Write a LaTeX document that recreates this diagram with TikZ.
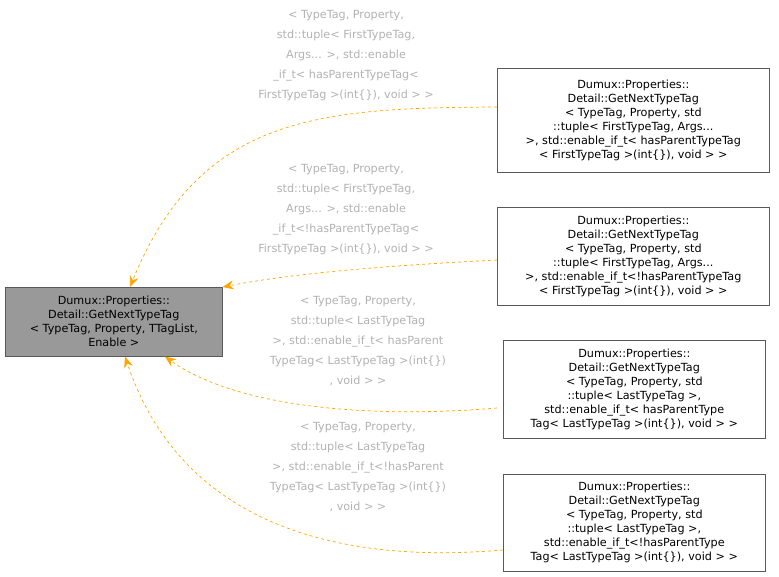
\documentclass[tikz,border=0pt]{standalone}
\usepackage{fontspec}
\setmainfont{DejaVu Sans}
\usetikzlibrary{arrows.meta}
\definecolor{edgec}{HTML}{FFA500}
\begin{document}
\begin{tikzpicture}[x=1pt,y=-1pt,
 box/.style={draw=black!65,line width=0.6pt,align=center,font=\fontsize{11.2}{14}\selectfont,inner sep=0pt,anchor=north west},
 lab/.style={text=black!30,align=center,font=\fontsize{11.2}{20}\selectfont,inner sep=0pt},
 edge/.style={draw=edgec,dashed,line width=0.7pt,-{Stealth[length=11pt,width=9pt]}}]
\useasboundingbox (0,0) rectangle (779,577);
\node[box,fill=black!40,minimum width=217pt,minimum height=69pt] (base) at (5,287) {Dumux::Properties::\\Detail::GetNextTypeTag\\< TypeTag, Property, TTagList,\\Enable >};
\node[box,minimum width=272pt,minimum height=104pt] (a) at (497,68) {Dumux::Properties::\\Detail::GetNextTypeTag\\< TypeTag, Property, std\\::tuple< FirstTypeTag, Args...\\ >, std::enable\_if\_t< hasParentTypeTag\\< FirstTypeTag >(int\{\}), void > >};
\node[box,minimum width=272pt,minimum height=98pt] (b) at (497,207) {Dumux::Properties::\\Detail::GetNextTypeTag\\< TypeTag, Property, std\\::tuple< FirstTypeTag, Args...\\ >, std::enable\_if\_t<!hasParentTypeTag\\< FirstTypeTag >(int\{\}), void > >};
\node[box,minimum width=262pt,minimum height=98pt] (c) at (503,340) {Dumux::Properties::\\Detail::GetNextTypeTag\\< TypeTag, Property, std\\::tuple< LastTypeTag >,\\ std::enable\_if\_t< hasParentType\\Tag< LastTypeTag >(int\{\}), void > >};
\node[box,minimum width=262pt,minimum height=97pt] (d) at (503,474) {Dumux::Properties::\\Detail::GetNextTypeTag\\< TypeTag, Property, std\\::tuple< LastTypeTag >,\\ std::enable\_if\_t<!hasParentType\\Tag< LastTypeTag >(int\{\}), void > >};
\node[lab] (la) at (346,56) {< TypeTag, Property,\\std::tuple< FirstTypeTag,\\Args... >, std::enable\\\_if\_t< hasParentTypeTag<\\FirstTypeTag >(int\{\}), void > >};
\node[lab] (lb) at (346,210) {< TypeTag, Property,\\std::tuple< FirstTypeTag,\\Args... >, std::enable\\\_if\_t<!hasParentTypeTag<\\FirstTypeTag >(int\{\}), void > >};
\node[lab] (lc) at (358,341) {< TypeTag, Property,\\std::tuple< LastTypeTag\\ >, std::enable\_if\_t< hasParent\\TypeTag< LastTypeTag >(int\{\})\\, void > >};
\node[lab] (ld) at (358,467) {< TypeTag, Property,\\std::tuple< LastTypeTag\\ >, std::enable\_if\_t<!hasParent\\TypeTag< LastTypeTag >(int\{\})\\, void > >};
\coordinate (ae) at (497,107);
\coordinate (be) at (497,260);
\coordinate (ce) at (497,408);
\coordinate (de) at (503,550);
\draw[edge] (ae) .. controls (320,108) and (200,115) .. (base.north -| 130,0);
\draw[edge] (be) .. controls (400,265) and (300,272) .. (base.north east);
\draw[edge] (ce) .. controls (380,418) and (240,410) .. (base.south -| 165,0);
\draw[edge] (de) .. controls (330,565) and (180,520) .. (base.south -| 125,0);
\end{tikzpicture}
\end{document}
